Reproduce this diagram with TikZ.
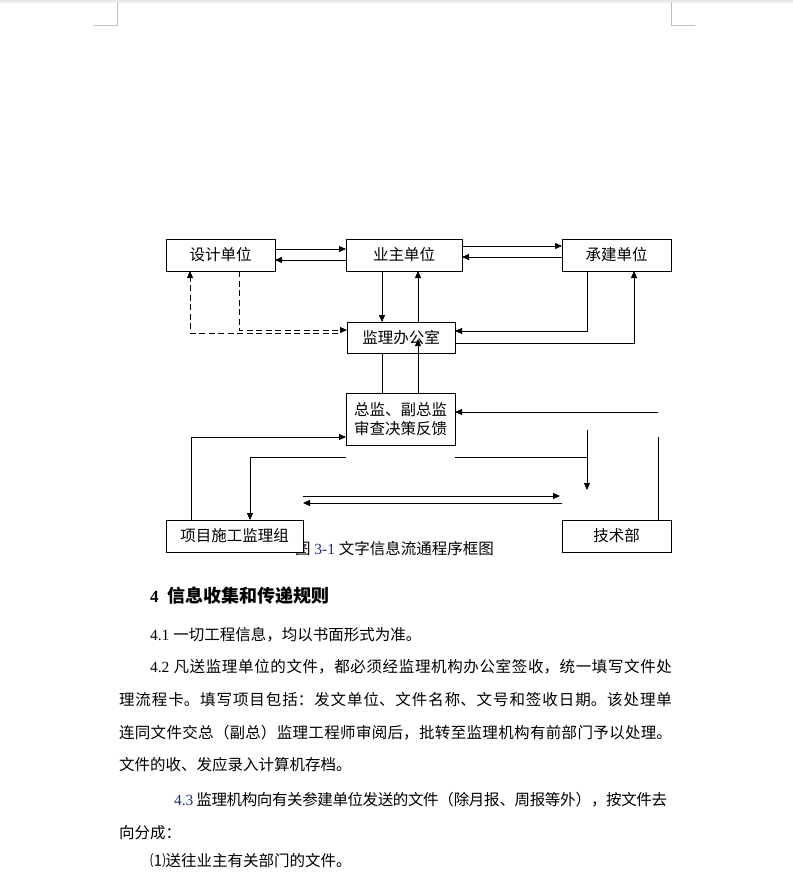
\documentclass[tikz,border=0pt]{standalone}
\usepackage{fontspec}
\setmainfont{Liberation Serif}
\newfontfamily\cjk{Noto Sans CJK SC}
\usetikzlibrary{arrows.meta,calc}
\XeTeXlinebreaklocale "zh"
\XeTeXlinebreakskip=0pt plus 4pt minus 0.6pt
\definecolor{numblue}{RGB}{30,50,120}
\definecolor{markgray}{RGB}{190,190,190}
\begin{document}
\begin{tikzpicture}[x=1pt,y=-1pt,
  box/.style={draw=black,line width=0.8pt,fill=white,inner sep=0pt,outer sep=0pt,align=center,
    font=\cjk\fontsize{15.5}{19}\selectfont},
  arr/.style={-{Triangle[length=7pt,width=6pt]}},
  ln/.style={line width=0.8pt,draw=black},
  dsh/.style={dash pattern=on 6pt off 3.5pt},
  body/.style={anchor=west,inner sep=0pt,outer sep=0pt,font=\fontsize{15.5}{19}\selectfont},
  just/.style={body,text width=#1,align=justify}]
\useasboundingbox (0,0) rectangle (793,879);
\fill[white] (0,0) rectangle (793,879);
\shade[top color=black!10,bottom color=white] (0,0) rectangle (793,4);
% page corner marks
\draw[markgray,line width=1pt] (94,25) -- (117,25) -- (117,2);
\draw[markgray,line width=1pt] (695,25) -- (671,25) -- (671,2);

% caption (partly hidden by box)
\node[inner sep=0pt,font=\fontsize{15.5}{19}\selectfont] (cap) at (394.5,549)
  {{\cjk 图} {\color{numblue}3-1} {\cjk 文字信息流通程序框图}};

% boxes
\node[box,minimum width=109pt,minimum height=32pt] (sj) at (220.5,255) {设计单位};
\node[box,minimum width=116pt,minimum height=32pt] (yz) at (404,255) {业主单位};
\node[box,minimum width=109pt,minimum height=32pt] (cj) at (616.5,255) {承建单位};
\node[box,minimum width=108pt,minimum height=31pt] (jl) at (401,337.5) {监理办公室};
\node[box,minimum width=109pt,minimum height=52pt] (zj) at (400.5,419) {总监、副总监\\审查决策反馈};
\node[box,minimum width=137pt,minimum height=32pt] (xm) at (234.5,536) {项目施工监理组};
\node[box,minimum width=109pt,minimum height=32pt] (js) at (616.5,536) {技术部};

% free ends
\coordinate (tA) at (587,457);
\coordinate (vA) at (587,430);
\coordinate (vB) at (587,490);
\coordinate (rt) at (658,412);
\coordinate (rv) at (658,437);
\coordinate (h1) at (560,496);
\coordinate (h2) at (562,503);
\coordinate (tip) at (418,339);

% top row
\draw[ln,arr] ([yshift=6pt]sj.east) -- ([yshift=6pt]yz.west);
\draw[ln,arr] ([yshift=-5pt]yz.west) -- ([yshift=-5pt]sj.east);
\draw[ln,arr] ([yshift=9pt]yz.east) -- ([yshift=9pt]cj.west);
\draw[ln,arr] ([yshift=-2pt]cj.west) -- ([yshift=-2pt]yz.east);
% owner <-> office
\draw[ln,arr] ([xshift=-22pt]yz.south) -- ([xshift=-22pt]yz.south |- jl.north);
\draw[ln,arr] ([xshift=14pt]yz.south |- jl.north) -- ([xshift=14pt]yz.south);
% contractor <-> office
\draw[ln,arr] ([xshift=-29.5pt]cj.south) |- ([yshift=6.5pt]jl.east);
\draw[ln,arr] ([yshift=-5.5pt]jl.east) -| ([xshift=17.5pt]cj.south);
% design <-> office (dashed)
\draw[ln,dsh,arr] ([xshift=-9pt,yshift=4.5pt]jl.west) -| ([xshift=-30.5pt]sj.south);
\draw[ln,dsh,arr] ([xshift=18.5pt]sj.south) |- ([yshift=7.5pt]jl.west);
% office <-> chief
\draw[ln] ([xshift=-19pt]jl.south) -- ([xshift=-19pt]jl.south |- zj.north);
\draw[ln,arr] (tip |- zj.north) -- (tip);
% group <-> chief
\draw[ln,arr] ([xshift=-43.5pt]xm.north) |- ([yshift=-18pt]zj.west);
\draw[ln,arr] ([yshift=-12pt]zj.south west) -| ([xshift=15.5pt]xm.north);
\draw[ln] ([yshift=-12pt]zj.south east) -- (tA);
\draw[ln,arr] (vA) -- (vB);
% technical dept
\draw[ln,arr] (rt) -- (zj.east |- rt);
\draw[ln] (rv) -- (rv |- js.north);
% group <-> technical
\draw[ln,arr] (xm.east |- h1) -- (h1);
\draw[ln,arr] (h2) -- (xm.east |- h2);

% body text
\node[anchor=west,inner sep=0pt] (hd) at (150,596)
  {\fontsize{17}{20}\selectfont\bfseries 4\hspace{9pt}{\cjk\fontsize{18}{20}\selectfont\bfseries 信息收集和传递规则}};
\node[body] (p1) at (150,635) {4.1 {\cjk 一切工程信息，均以书面形式为准。}};
\node[just=522pt] (p2) at (150,667) {\noindent 4.2 {\cjk 凡送监理单位的文件，都必须经监理机构办公室签收，统一填写文件处}\parfillskip=0pt\par};
\node[just=553pt] (p3) at (119,700) {\noindent{\cjk 理流程卡。填写项目包括：发文单位、文件名称、文号和签收日期。该处理单}\parfillskip=0pt\par};
\node[just=553pt] (p4) at (119,733) {\noindent{\cjk 连同文件交总（副总）监理工程师审阅后，批转至监理机构有前部门予以处理。}\parfillskip=0pt\par};
\node[body] (p5) at (119,765) {\cjk 文件的收、发应录入计算机存档。};
\node[just=493pt] (p6) at (174,800) {\noindent{\color{numblue}4.3} {\cjk 监理机构向有关参建单位发送的文件（除月报、周报等外），按文件去}\parfillskip=0pt\par};
\node[body] (p7) at (119,833) {\cjk 向分成：};
\node[body] (p8) at (150,861) {\cjk ⑴送往业主有关部门的文件。};
\end{tikzpicture}
\end{document}
